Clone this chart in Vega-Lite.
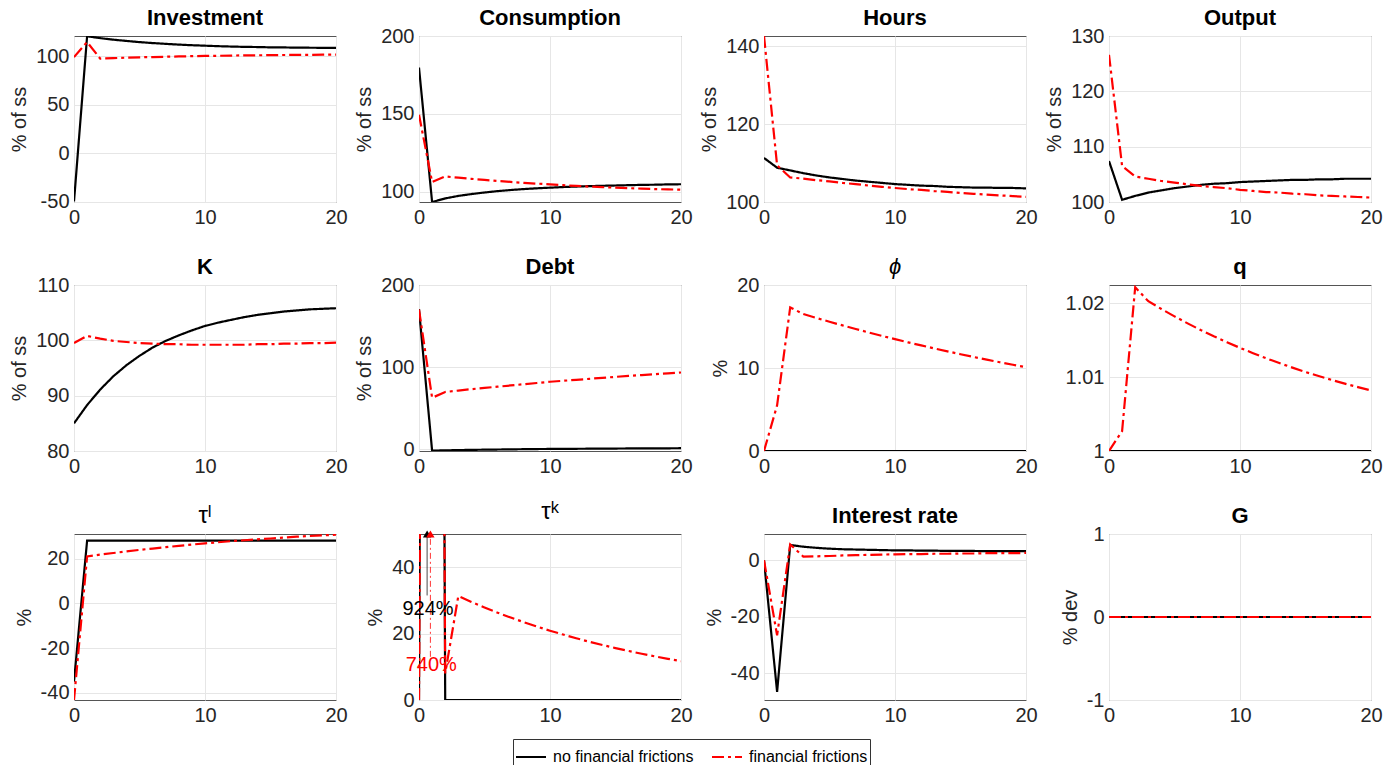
{
"$schema": "https://vega.github.io/schema/vega-lite/v6.json",
"padding": {"left": 9, "top": 6, "right": 5, "bottom": 5},
"datasets": {
"d": [
{"p":"inv","t":0,"nf":-50,"ff":99},{"p":"inv","t":1,"nf":120.5,"ff":114.5},{"p":"inv","t":2,"nf":118.6,"ff":97.5},{"p":"inv","t":3,"nf":117.0,"ff":98.0},{"p":"inv","t":4,"nf":115.7,"ff":98.4},{"p":"inv","t":5,"nf":114.5,"ff":98.8},{"p":"inv","t":6,"nf":113.5,"ff":99.1},{"p":"inv","t":7,"nf":112.7,"ff":99.4},{"p":"inv","t":8,"nf":111.9,"ff":99.7},{"p":"inv","t":9,"nf":111.3,"ff":100.0},{"p":"inv","t":10,"nf":110.8,"ff":100.2},{"p":"inv","t":11,"nf":110.3,"ff":100.4},{"p":"inv","t":12,"nf":109.9,"ff":100.6},{"p":"inv","t":13,"nf":109.6,"ff":100.8},{"p":"inv","t":14,"nf":109.4,"ff":100.9},{"p":"inv","t":15,"nf":109.1,"ff":101.0},{"p":"inv","t":16,"nf":109.0,"ff":101.2},{"p":"inv","t":17,"nf":108.8,"ff":101.3},{"p":"inv","t":18,"nf":108.7,"ff":101.4},{"p":"inv","t":19,"nf":108.6,"ff":101.5},{"p":"inv","t":20,"nf":108.5,"ff":101.6},
{"p":"con","t":0,"nf":179.7,"ff":149.4},{"p":"con","t":1,"nf":93.4,"ff":106.3},{"p":"con","t":2,"nf":95.7,"ff":109.8},{"p":"con","t":3,"nf":97.3,"ff":109.0},{"p":"con","t":4,"nf":98.5,"ff":108.3},{"p":"con","t":5,"nf":99.5,"ff":107.6},{"p":"con","t":6,"nf":100.4,"ff":106.9},{"p":"con","t":7,"nf":101.1,"ff":106.3},{"p":"con","t":8,"nf":101.7,"ff":105.7},{"p":"con","t":9,"nf":102.2,"ff":105.2},{"p":"con","t":10,"nf":102.6,"ff":104.7},{"p":"con","t":11,"nf":103.0,"ff":104.2},{"p":"con","t":12,"nf":103.3,"ff":103.7},{"p":"con","t":13,"nf":103.6,"ff":103.3},{"p":"con","t":14,"nf":103.8,"ff":102.9},{"p":"con","t":15,"nf":104.0,"ff":102.6},{"p":"con","t":16,"nf":104.2,"ff":102.3},{"p":"con","t":17,"nf":104.4,"ff":102.0},{"p":"con","t":18,"nf":104.5,"ff":101.7},{"p":"con","t":19,"nf":104.7,"ff":101.5},{"p":"con","t":20,"nf":104.8,"ff":101.3},
{"p":"hrs","t":0,"nf":111.3,"ff":142.6},{"p":"hrs","t":1,"nf":108.8,"ff":109.4},{"p":"hrs","t":2,"nf":108.1,"ff":106.3},{"p":"hrs","t":3,"nf":107.4,"ff":106.0},{"p":"hrs","t":4,"nf":106.8,"ff":105.6},{"p":"hrs","t":5,"nf":106.3,"ff":105.3},{"p":"hrs","t":6,"nf":105.9,"ff":104.9},{"p":"hrs","t":7,"nf":105.5,"ff":104.6},{"p":"hrs","t":8,"nf":105.2,"ff":104.2},{"p":"hrs","t":9,"nf":104.9,"ff":103.9},{"p":"hrs","t":10,"nf":104.6,"ff":103.6},{"p":"hrs","t":11,"nf":104.4,"ff":103.3},{"p":"hrs","t":12,"nf":104.2,"ff":103.1},{"p":"hrs","t":13,"nf":104.1,"ff":102.8},{"p":"hrs","t":14,"nf":103.9,"ff":102.6},{"p":"hrs","t":15,"nf":103.8,"ff":102.3},{"p":"hrs","t":16,"nf":103.7,"ff":102.1},{"p":"hrs","t":17,"nf":103.7,"ff":101.9},{"p":"hrs","t":18,"nf":103.6,"ff":101.7},{"p":"hrs","t":19,"nf":103.6,"ff":101.5},{"p":"hrs","t":20,"nf":103.5,"ff":101.3},
{"p":"out","t":0,"nf":107.4,"ff":126.6},{"p":"out","t":1,"nf":100.4,"ff":106.5},{"p":"out","t":2,"nf":101.1,"ff":104.6},{"p":"out","t":3,"nf":101.7,"ff":104.2},{"p":"out","t":4,"nf":102.1,"ff":103.8},{"p":"out","t":5,"nf":102.5,"ff":103.5},{"p":"out","t":6,"nf":102.8,"ff":103.2},{"p":"out","t":7,"nf":103.1,"ff":102.9},{"p":"out","t":8,"nf":103.3,"ff":102.7},{"p":"out","t":9,"nf":103.4,"ff":102.5},{"p":"out","t":10,"nf":103.6,"ff":102.2},{"p":"out","t":11,"nf":103.7,"ff":102.0},{"p":"out","t":12,"nf":103.8,"ff":101.8},{"p":"out","t":13,"nf":103.9,"ff":101.7},{"p":"out","t":14,"nf":104.0,"ff":101.5},{"p":"out","t":15,"nf":104.0,"ff":101.4},{"p":"out","t":16,"nf":104.1,"ff":101.2},{"p":"out","t":17,"nf":104.1,"ff":101.1},{"p":"out","t":18,"nf":104.2,"ff":101.0},{"p":"out","t":19,"nf":104.2,"ff":100.9},{"p":"out","t":20,"nf":104.2,"ff":100.8},
{"p":"k","t":0,"nf":85.0,"ff":99.5},{"p":"k","t":1,"nf":88.3,"ff":100.8},{"p":"k","t":2,"nf":91.1,"ff":100.3},{"p":"k","t":3,"nf":93.5,"ff":99.9},{"p":"k","t":4,"nf":95.5,"ff":99.7},{"p":"k","t":5,"nf":97.2,"ff":99.5},{"p":"k","t":6,"nf":98.7,"ff":99.4},{"p":"k","t":7,"nf":99.9,"ff":99.3},{"p":"k","t":8,"nf":100.9,"ff":99.3},{"p":"k","t":9,"nf":101.8,"ff":99.2},{"p":"k","t":10,"nf":102.6,"ff":99.2},{"p":"k","t":11,"nf":103.2,"ff":99.2},{"p":"k","t":12,"nf":103.7,"ff":99.2},{"p":"k","t":13,"nf":104.2,"ff":99.2},{"p":"k","t":14,"nf":104.6,"ff":99.3},{"p":"k","t":15,"nf":104.9,"ff":99.3},{"p":"k","t":16,"nf":105.2,"ff":99.4},{"p":"k","t":17,"nf":105.4,"ff":99.4},{"p":"k","t":18,"nf":105.6,"ff":99.5},{"p":"k","t":19,"nf":105.7,"ff":99.5},{"p":"k","t":20,"nf":105.8,"ff":99.6},
{"p":"debt","t":0,"nf":170.5,"ff":170},{"p":"debt","t":1,"nf":-2.0,"ff":62.5},{"p":"debt","t":2,"nf":-1.6,"ff":69.5},{"p":"debt","t":3,"nf":-1.3,"ff":71.3},{"p":"debt","t":4,"nf":-1.0,"ff":73.0},{"p":"debt","t":5,"nf":-0.8,"ff":74.5},{"p":"debt","t":6,"nf":-0.6,"ff":76.0},{"p":"debt","t":7,"nf":-0.4,"ff":77.5},{"p":"debt","t":8,"nf":-0.2,"ff":79.0},{"p":"debt","t":9,"nf":0.0,"ff":80.5},{"p":"debt","t":10,"nf":0.1,"ff":82.0},{"p":"debt","t":11,"nf":0.2,"ff":83.2},{"p":"debt","t":12,"nf":0.3,"ff":84.4},{"p":"debt","t":13,"nf":0.4,"ff":85.6},{"p":"debt","t":14,"nf":0.5,"ff":86.8},{"p":"debt","t":15,"nf":0.6,"ff":88.0},{"p":"debt","t":16,"nf":0.7,"ff":89.1},{"p":"debt","t":17,"nf":0.8,"ff":90.2},{"p":"debt","t":18,"nf":0.8,"ff":91.3},{"p":"debt","t":19,"nf":0.9,"ff":92.3},{"p":"debt","t":20,"nf":1.0,"ff":93.3},
{"p":"phi","t":0,"nf":0,"ff":0},{"p":"phi","t":1,"nf":0,"ff":5.5},{"p":"phi","t":2,"nf":0,"ff":17.3},{"p":"phi","t":3,"nf":0,"ff":16.5},{"p":"phi","t":4,"nf":0,"ff":16.03},{"p":"phi","t":5,"nf":0,"ff":15.57},{"p":"phi","t":6,"nf":0,"ff":15.13},{"p":"phi","t":7,"nf":0,"ff":14.7},{"p":"phi","t":8,"nf":0,"ff":14.28},{"p":"phi","t":9,"nf":0,"ff":13.87},{"p":"phi","t":10,"nf":0,"ff":13.48},{"p":"phi","t":11,"nf":0,"ff":13.09},{"p":"phi","t":12,"nf":0,"ff":12.72},{"p":"phi","t":13,"nf":0,"ff":12.36},{"p":"phi","t":14,"nf":0,"ff":12.01},{"p":"phi","t":15,"nf":0,"ff":11.66},{"p":"phi","t":16,"nf":0,"ff":11.33},{"p":"phi","t":17,"nf":0,"ff":11.01},{"p":"phi","t":18,"nf":0,"ff":10.69},{"p":"phi","t":19,"nf":0,"ff":10.39},{"p":"phi","t":20,"nf":0,"ff":10.09},
{"p":"q","t":0,"nf":1,"ff":1},{"p":"q","t":1,"nf":1,"ff":1.0027},{"p":"q","t":2,"nf":1,"ff":1.0222},{"p":"q","t":3,"nf":1,"ff":1.0203},{"p":"q","t":4,"nf":1,"ff":1.01925},{"p":"q","t":5,"nf":1,"ff":1.01825},{"p":"q","t":6,"nf":1,"ff":1.0173},{"p":"q","t":7,"nf":1,"ff":1.0164},{"p":"q","t":8,"nf":1,"ff":1.01555},{"p":"q","t":9,"nf":1,"ff":1.01475},{"p":"q","t":10,"nf":1,"ff":1.01398},{"p":"q","t":11,"nf":1,"ff":1.01326},{"p":"q","t":12,"nf":1,"ff":1.01257},{"p":"q","t":13,"nf":1,"ff":1.01192},{"p":"q","t":14,"nf":1,"ff":1.0113},{"p":"q","t":15,"nf":1,"ff":1.01071},{"p":"q","t":16,"nf":1,"ff":1.01016},{"p":"q","t":17,"nf":1,"ff":1.00963},{"p":"q","t":18,"nf":1,"ff":1.00913},{"p":"q","t":19,"nf":1,"ff":1.00866},{"p":"q","t":20,"nf":1,"ff":1.00821},
{"p":"taul","t":0,"nf":-35,"ff":-43.2},{"p":"taul","t":1,"nf":28,"ff":21.0},{"p":"taul","t":2,"nf":28,"ff":21.8},{"p":"taul","t":3,"nf":28,"ff":22.5},{"p":"taul","t":4,"nf":28,"ff":23.2},{"p":"taul","t":5,"nf":28,"ff":23.9},{"p":"taul","t":6,"nf":28,"ff":24.5},{"p":"taul","t":7,"nf":28,"ff":25.1},{"p":"taul","t":8,"nf":28,"ff":25.7},{"p":"taul","t":9,"nf":28,"ff":26.3},{"p":"taul","t":10,"nf":28,"ff":26.8},{"p":"taul","t":11,"nf":28,"ff":27.3},{"p":"taul","t":12,"nf":28,"ff":27.8},{"p":"taul","t":13,"nf":28,"ff":28.2},{"p":"taul","t":14,"nf":28,"ff":28.6},{"p":"taul","t":15,"nf":28,"ff":29.0},{"p":"taul","t":16,"nf":28,"ff":29.4},{"p":"taul","t":17,"nf":28,"ff":29.8},{"p":"taul","t":18,"nf":28,"ff":30.1},{"p":"taul","t":19,"nf":28,"ff":30.4},{"p":"taul","t":20,"nf":28,"ff":30.7},
{"p":"tauk","t":0,"nf":0,"ff":0},{"p":"tauk","t":1,"nf":924,"ff":740},{"p":"tauk","t":2,"nf":0,"ff":8},{"p":"tauk","t":3,"nf":0,"ff":31.3},{"p":"tauk","t":4,"nf":0,"ff":29.54},{"p":"tauk","t":5,"nf":0,"ff":27.88},{"p":"tauk","t":6,"nf":0,"ff":26.31},{"p":"tauk","t":7,"nf":0,"ff":24.83},{"p":"tauk","t":8,"nf":0,"ff":23.44},{"p":"tauk","t":9,"nf":0,"ff":22.12},{"p":"tauk","t":10,"nf":0,"ff":20.88},{"p":"tauk","t":11,"nf":0,"ff":19.71},{"p":"tauk","t":12,"nf":0,"ff":18.6},{"p":"tauk","t":13,"nf":0,"ff":17.55},{"p":"tauk","t":14,"nf":0,"ff":16.57},{"p":"tauk","t":15,"nf":0,"ff":15.64},{"p":"tauk","t":16,"nf":0,"ff":14.76},{"p":"tauk","t":17,"nf":0,"ff":13.93},{"p":"tauk","t":18,"nf":0,"ff":13.14},{"p":"tauk","t":19,"nf":0,"ff":12.41},{"p":"tauk","t":20,"nf":0,"ff":11.71},
{"p":"ir","t":0,"nf":0,"ff":0},{"p":"ir","t":1,"nf":-46.6,"ff":-26.6},{"p":"ir","t":2,"nf":5.4,"ff":5.6},{"p":"ir","t":3,"nf":4.8,"ff":1.3},{"p":"ir","t":4,"nf":4.4,"ff":1.4},{"p":"ir","t":5,"nf":4.1,"ff":1.5},{"p":"ir","t":6,"nf":3.9,"ff":1.7},{"p":"ir","t":7,"nf":3.8,"ff":1.8},{"p":"ir","t":8,"nf":3.7,"ff":1.9},{"p":"ir","t":9,"nf":3.6,"ff":2.0},{"p":"ir","t":10,"nf":3.5,"ff":2.1},{"p":"ir","t":11,"nf":3.5,"ff":2.2},{"p":"ir","t":12,"nf":3.4,"ff":2.2},{"p":"ir","t":13,"nf":3.4,"ff":2.3},{"p":"ir","t":14,"nf":3.3,"ff":2.3},{"p":"ir","t":15,"nf":3.3,"ff":2.4},{"p":"ir","t":16,"nf":3.3,"ff":2.4},{"p":"ir","t":17,"nf":3.2,"ff":2.5},{"p":"ir","t":18,"nf":3.2,"ff":2.5},{"p":"ir","t":19,"nf":3.2,"ff":2.5},{"p":"ir","t":20,"nf":3.2,"ff":2.6},
{"p":"g","t":0,"nf":0,"ff":0},{"p":"g","t":1,"nf":0,"ff":0},{"p":"g","t":2,"nf":0,"ff":0},{"p":"g","t":3,"nf":0,"ff":0},{"p":"g","t":4,"nf":0,"ff":0},{"p":"g","t":5,"nf":0,"ff":0},{"p":"g","t":6,"nf":0,"ff":0},{"p":"g","t":7,"nf":0,"ff":0},{"p":"g","t":8,"nf":0,"ff":0},{"p":"g","t":9,"nf":0,"ff":0},{"p":"g","t":10,"nf":0,"ff":0},{"p":"g","t":11,"nf":0,"ff":0},{"p":"g","t":12,"nf":0,"ff":0},{"p":"g","t":13,"nf":0,"ff":0},{"p":"g","t":14,"nf":0,"ff":0},{"p":"g","t":15,"nf":0,"ff":0},{"p":"g","t":16,"nf":0,"ff":0},{"p":"g","t":17,"nf":0,"ff":0},{"p":"g","t":18,"nf":0,"ff":0},{"p":"g","t":19,"nf":0,"ff":0},{"p":"g","t":20,"nf":0,"ff":0}
],
"ann": [
{"k":"shaft","s":"nf","t":0.62,"v0":31.5,"v1":50},
{"k":"shaft","s":"ff","t":0.87,"v0":13,"v1":50},
{"k":"head","s":"nf","t":0.62,"v":50},
{"k":"head","s":"ff","t":0.87,"v":50},
{"k":"label","s":"nf","t":0.69,"v":27.3,"txt":"924%"},
{"k":"label","s":"ff","t":0.94,"v":10.5,"txt":"740%"}
]
},
"columns": 4,
"spacing": {"row": 83, "column": 83},
"bounds": "flush",
"concat": [
{"title": {"text": "Investment"}, "width": 262, "height": 166, "data": {"name": "d"},
 "transform": [{"filter": "datum.p == 'inv'"}, {"fold": ["nf", "ff"], "as": ["s", "v"]}],
 "mark": {"type": "line", "clip": true, "strokeWidth": 2.2},
 "encoding": {
  "x": {"field": "t", "type": "quantitative", "scale": {"domain": [0, 20], "nice": false}, "axis": {"values": [0, 10, 20], "title": null}},
  "y": {"field": "v", "type": "quantitative", "scale": {"domain": [-50.5, 120.8], "nice": false, "zero": false}, "axis": {"values": [-50, 0, 50, 100], "title": "% of ss"}},
  "color": {"field": "s", "type": "nominal", "scale": {"domain": ["nf", "ff"], "range": ["#000000", "#ff0000"]}, "legend": null},
  "strokeDash": {"field": "s", "type": "nominal", "scale": {"domain": ["nf", "ff"], "range": [[1, 0], [12, 4, 3, 4]]}, "legend": null}}},
{"title": {"text": "Consumption", "dy": 10}, "width": 262, "height": 166, "data": {"name": "d"},
 "transform": [{"filter": "datum.p == 'con'"}, {"fold": ["nf", "ff"], "as": ["s", "v"]}],
 "mark": {"type": "line", "clip": true, "strokeWidth": 2.2},
 "encoding": {
  "x": {"field": "t", "type": "quantitative", "scale": {"domain": [0, 20], "nice": false}, "axis": {"values": [0, 10, 20], "title": null}},
  "y": {"field": "v", "type": "quantitative", "scale": {"domain": [93.4, 200], "nice": false, "zero": false}, "axis": {"values": [100, 150, 200], "title": "% of ss"}},
  "color": {"field": "s", "type": "nominal", "scale": {"domain": ["nf", "ff"], "range": ["#000000", "#ff0000"]}, "legend": null},
  "strokeDash": {"field": "s", "type": "nominal", "scale": {"domain": ["nf", "ff"], "range": [[1, 0], [12, 4, 3, 4]]}, "legend": null}}},
{"title": {"text": "Hours"}, "width": 262, "height": 166, "data": {"name": "d"},
 "transform": [{"filter": "datum.p == 'hrs'"}, {"fold": ["nf", "ff"], "as": ["s", "v"]}],
 "mark": {"type": "line", "clip": true, "strokeWidth": 2.2},
 "encoding": {
  "x": {"field": "t", "type": "quantitative", "scale": {"domain": [0, 20], "nice": false}, "axis": {"values": [0, 10, 20], "title": null}},
  "y": {"field": "v", "type": "quantitative", "scale": {"domain": [100, 142.6], "nice": false, "zero": false}, "axis": {"values": [100, 120, 140], "title": "% of ss"}},
  "color": {"field": "s", "type": "nominal", "scale": {"domain": ["nf", "ff"], "range": ["#000000", "#ff0000"]}, "legend": null},
  "strokeDash": {"field": "s", "type": "nominal", "scale": {"domain": ["nf", "ff"], "range": [[1, 0], [12, 4, 3, 4]]}, "legend": null}}},
{"title": {"text": "Output", "dy": 10}, "width": 262, "height": 166, "data": {"name": "d"},
 "transform": [{"filter": "datum.p == 'out'"}, {"fold": ["nf", "ff"], "as": ["s", "v"]}],
 "mark": {"type": "line", "clip": true, "strokeWidth": 2.2},
 "encoding": {
  "x": {"field": "t", "type": "quantitative", "scale": {"domain": [0, 20], "nice": false}, "axis": {"values": [0, 10, 20], "title": null}},
  "y": {"field": "v", "type": "quantitative", "scale": {"domain": [100, 130], "nice": false, "zero": false}, "axis": {"values": [100, 110, 120, 130], "title": "% of ss"}},
  "color": {"field": "s", "type": "nominal", "scale": {"domain": ["nf", "ff"], "range": ["#000000", "#ff0000"]}, "legend": null},
  "strokeDash": {"field": "s", "type": "nominal", "scale": {"domain": ["nf", "ff"], "range": [[1, 0], [12, 4, 3, 4]]}, "legend": null}}},
{"title": {"text": "K", "dy": 10}, "width": 262, "height": 166, "data": {"name": "d"},
 "transform": [{"filter": "datum.p == 'k'"}, {"fold": ["nf", "ff"], "as": ["s", "v"]}],
 "mark": {"type": "line", "clip": true, "strokeWidth": 2.2},
 "encoding": {
  "x": {"field": "t", "type": "quantitative", "scale": {"domain": [0, 20], "nice": false}, "axis": {"values": [0, 10, 20], "title": null}},
  "y": {"field": "v", "type": "quantitative", "scale": {"domain": [80, 110], "nice": false, "zero": false}, "axis": {"values": [80, 90, 100, 110], "title": "% of ss"}},
  "color": {"field": "s", "type": "nominal", "scale": {"domain": ["nf", "ff"], "range": ["#000000", "#ff0000"]}, "legend": null},
  "strokeDash": {"field": "s", "type": "nominal", "scale": {"domain": ["nf", "ff"], "range": [[1, 0], [12, 4, 3, 4]]}, "legend": null}}},
{"title": {"text": "Debt", "dy": 10}, "width": 262, "height": 166, "data": {"name": "d"},
 "transform": [{"filter": "datum.p == 'debt'"}, {"fold": ["nf", "ff"], "as": ["s", "v"]}],
 "mark": {"type": "line", "clip": true, "strokeWidth": 2.2},
 "encoding": {
  "x": {"field": "t", "type": "quantitative", "scale": {"domain": [0, 20], "nice": false}, "axis": {"values": [0, 10, 20], "title": null}},
  "y": {"field": "v", "type": "quantitative", "scale": {"domain": [-2.4, 200], "nice": false, "zero": false}, "axis": {"values": [0, 100, 200], "title": "% of ss"}},
  "color": {"field": "s", "type": "nominal", "scale": {"domain": ["nf", "ff"], "range": ["#000000", "#ff0000"]}, "legend": null},
  "strokeDash": {"field": "s", "type": "nominal", "scale": {"domain": ["nf", "ff"], "range": [[1, 0], [12, 4, 3, 4]]}, "legend": null}}},
{"title": {"text": "ϕ", "fontWeight": "normal", "fontStyle": "italic", "dy": 10}, "width": 262, "height": 166, "data": {"name": "d"},
 "transform": [{"filter": "datum.p == 'phi'"}, {"fold": ["nf", "ff"], "as": ["s", "v"]}],
 "mark": {"type": "line", "clip": true, "strokeWidth": 2.2},
 "encoding": {
  "x": {"field": "t", "type": "quantitative", "scale": {"domain": [0, 20], "nice": false}, "axis": {"values": [0, 10, 20], "title": null}},
  "y": {"field": "v", "type": "quantitative", "scale": {"domain": [0, 20], "nice": false, "zero": false}, "axis": {"values": [0, 10, 20], "title": "%"}},
  "color": {"field": "s", "type": "nominal", "scale": {"domain": ["nf", "ff"], "range": ["#000000", "#ff0000"]}, "legend": null},
  "strokeDash": {"field": "s", "type": "nominal", "scale": {"domain": ["nf", "ff"], "range": [[1, 0], [12, 4, 3, 4]]}, "legend": null}}},
{"title": {"text": "q"}, "width": 262, "height": 166, "data": {"name": "d"},
 "transform": [{"filter": "datum.p == 'q'"}, {"fold": ["nf", "ff"], "as": ["s", "v"]}],
 "mark": {"type": "line", "clip": true, "strokeWidth": 2.2},
 "encoding": {
  "x": {"field": "t", "type": "quantitative", "scale": {"domain": [0, 20], "nice": false}, "axis": {"values": [0, 10, 20], "title": null}},
  "y": {"field": "v", "type": "quantitative", "scale": {"domain": [1, 1.0225], "nice": false, "zero": false}, "axis": {"values": [1, 1.01, 1.02], "format": "~g", "title": null}},
  "color": {"field": "s", "type": "nominal", "scale": {"domain": ["nf", "ff"], "range": ["#000000", "#ff0000"]}, "legend": null},
  "strokeDash": {"field": "s", "type": "nominal", "scale": {"domain": ["nf", "ff"], "range": [[1, 0], [12, 4, 3, 4]]}, "legend": null}}},
{"title": {"text": "τˡ", "fontWeight": "normal", "fontSize": 24}, "width": 262, "height": 166, "data": {"name": "d"},
 "transform": [{"filter": "datum.p == 'taul'"}, {"fold": ["nf", "ff"], "as": ["s", "v"]}],
 "mark": {"type": "line", "clip": true, "strokeWidth": 2.2},
 "encoding": {
  "x": {"field": "t", "type": "quantitative", "scale": {"domain": [0, 20], "nice": false}, "axis": {"values": [0, 10, 20], "title": null}},
  "y": {"field": "v", "type": "quantitative", "scale": {"domain": [-43.2, 31], "nice": false, "zero": false}, "axis": {"values": [-40, -20, 0, 20], "title": "%"}},
  "color": {"field": "s", "type": "nominal", "scale": {"domain": ["nf", "ff"], "range": ["#000000", "#ff0000"]}, "legend": null},
  "strokeDash": {"field": "s", "type": "nominal", "scale": {"domain": ["nf", "ff"], "range": [[1, 0], [12, 4, 3, 4]]}, "legend": null}}},
{"title": {"text": "τᵏ", "fontWeight": "normal", "fontSize": 24}, "width": 262, "height": 166,
 "layer": [
  {"data": {"name": "d"},
   "transform": [{"filter": "datum.p == 'tauk'"}, {"fold": ["nf", "ff"], "as": ["s", "v"]}],
   "mark": {"type": "line", "clip": true, "strokeWidth": 2.2},
   "encoding": {
    "x": {"field": "t", "type": "quantitative", "scale": {"domain": [0, 20], "nice": false}, "axis": {"values": [0, 10, 20], "title": null}},
    "y": {"field": "v", "type": "quantitative", "scale": {"domain": [0, 50], "nice": false, "zero": false}, "axis": {"values": [0, 20, 40], "title": "%"}},
    "color": {"field": "s", "type": "nominal", "scale": {"domain": ["nf", "ff"], "range": ["#000000", "#ff0000"]},
      "legend": {"orient": "none", "legendX": 94, "legendY": 205, "direction": "horizontal", "title": null, "labelExpr": "datum.value == 'nf' ? 'no financial frictions' : 'financial frictions'"}},
    "strokeDash": {"field": "s", "type": "nominal", "scale": {"domain": ["nf", "ff"], "range": [[1, 0], [12, 4, 3, 4]]},
      "legend": {"orient": "none", "legendX": 94, "legendY": 205, "direction": "horizontal", "title": null, "labelExpr": "datum.value == 'nf' ? 'no financial frictions' : 'financial frictions'"}}}},
  {"data": {"name": "ann"}, "transform": [{"filter": "datum.k == 'shaft'"}],
   "mark": {"type": "rule", "strokeWidth": 0.8},
   "encoding": {"x": {"field": "t", "type": "quantitative"}, "y": {"field": "v0", "type": "quantitative"}, "y2": {"field": "v1"},
     "color": {"condition": {"test": "datum.s == 'nf'", "value": "#000000"}, "value": "#ff0000"},
     "strokeDash": {"condition": {"test": "datum.s == 'nf'", "value": [1, 0]}, "value": [6, 3, 2, 3]}}},
  {"data": {"name": "ann"}, "transform": [{"filter": "datum.k == 'head'"}],
   "mark": {"type": "point", "shape": "triangle-up", "filled": true, "size": 70, "opacity": 1},
   "encoding": {"x": {"field": "t", "type": "quantitative"}, "y": {"field": "v", "type": "quantitative"},
     "color": {"condition": {"test": "datum.s == 'nf'", "value": "#000000"}, "value": "#ff0000"}}},
  {"data": {"name": "ann"}, "transform": [{"filter": "datum.k == 'label'"}],
   "mark": {"type": "text", "fontSize": 20},
   "encoding": {"x": {"field": "t", "type": "quantitative"}, "y": {"field": "v", "type": "quantitative"}, "text": {"field": "txt"},
     "color": {"condition": {"test": "datum.s == 'nf'", "value": "#000000"}, "value": "#ff0000"}}}
 ]},
{"title": {"text": "Interest rate"}, "width": 262, "height": 166, "data": {"name": "d"},
 "transform": [{"filter": "datum.p == 'ir'"}, {"fold": ["nf", "ff"], "as": ["s", "v"]}],
 "mark": {"type": "line", "clip": true, "strokeWidth": 2.2},
 "encoding": {
  "x": {"field": "t", "type": "quantitative", "scale": {"domain": [0, 20], "nice": false}, "axis": {"values": [0, 10, 20], "title": null}},
  "y": {"field": "v", "type": "quantitative", "scale": {"domain": [-49.5, 9.3], "nice": false, "zero": false}, "axis": {"values": [-40, -20, 0], "title": "%"}},
  "color": {"field": "s", "type": "nominal", "scale": {"domain": ["nf", "ff"], "range": ["#000000", "#ff0000"]}, "legend": null},
  "strokeDash": {"field": "s", "type": "nominal", "scale": {"domain": ["nf", "ff"], "range": [[1, 0], [12, 4, 3, 4]]}, "legend": null}}},
{"title": {"text": "G", "dy": 10}, "width": 262, "height": 166, "data": {"name": "d"},
 "transform": [{"filter": "datum.p == 'g'"}, {"fold": ["nf", "ff"], "as": ["s", "v"]}],
 "mark": {"type": "line", "clip": true, "strokeWidth": 2.2},
 "encoding": {
  "x": {"field": "t", "type": "quantitative", "scale": {"domain": [0, 20], "nice": false}, "axis": {"values": [0, 10, 20], "title": null}},
  "y": {"field": "v", "type": "quantitative", "scale": {"domain": [-1, 1], "nice": false, "zero": false}, "axis": {"values": [-1, 0, 1], "format": "~g", "title": "% dev"}},
  "color": {"field": "s", "type": "nominal", "scale": {"domain": ["nf", "ff"], "range": ["#000000", "#ff0000"]}, "legend": null},
  "strokeDash": {"field": "s", "type": "nominal", "scale": {"domain": ["nf", "ff"], "range": [[1, 0], [12, 4, 3, 4]]}, "legend": null}}}
],
"resolve": {"scale": {"x": "independent", "y": "independent", "color": "independent", "strokeDash": "independent"}},
"config": {
 "font": "Liberation Sans, Arial, DejaVu Sans, sans-serif",
 "view": {"stroke": "#555555", "strokeWidth": 1},
 "axis": {"labelFontSize": 20, "labelColor": "#262626", "titleFontSize": 20, "titleFontWeight": "normal", "titleColor": "#262626", "grid": true, "gridColor": "#e6e6e6", "domain": false, "ticks": false, "labelPadding": 5, "titlePadding": 6, "labelFlush": false, "labelOverlap": false},
 "axisY": {"labelExpr": "replace(datum.label, '−', '-')"},
 "title": {"fontSize": 22, "fontWeight": "bold", "color": "#000000", "offset": 6},
 "legend": {"labelFontSize": 16, "labelColor": "#000000", "symbolType": "stroke", "symbolSize": 900, "symbolStrokeWidth": 2, "strokeColor": "#333333", "fillColor": "#ffffff", "padding": 2, "columnPadding": 14, "labelOffset": 6}
}
}
